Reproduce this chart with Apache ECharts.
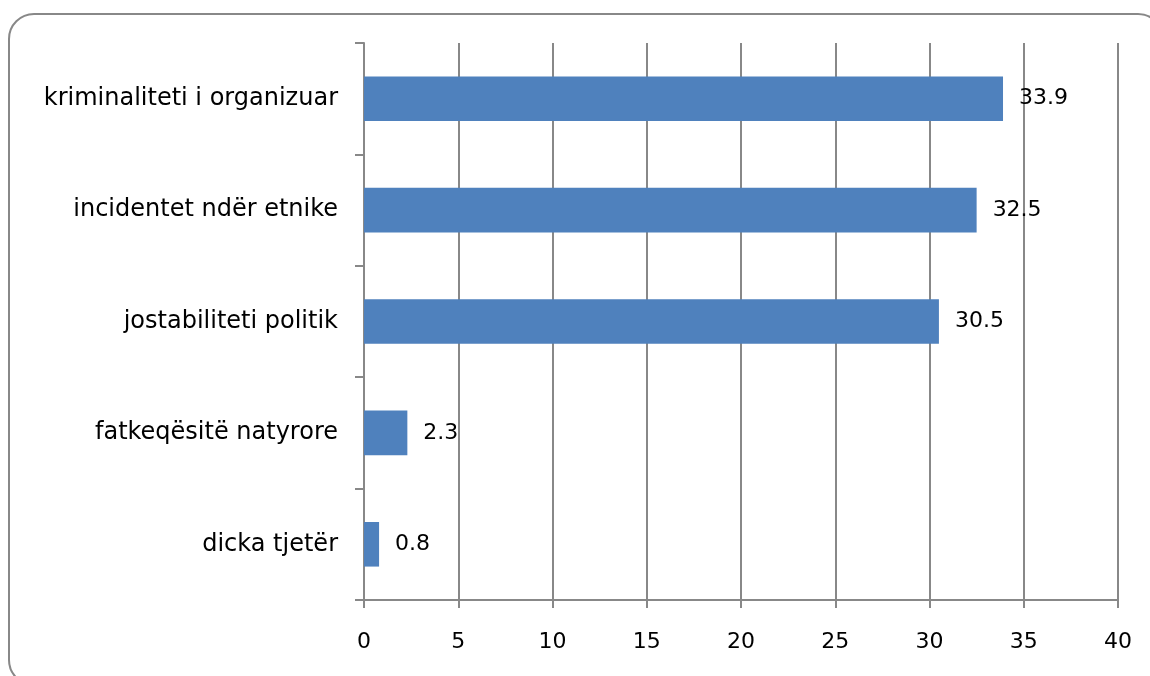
<!DOCTYPE html>
<html><head><meta charset="utf-8">
<script src="https://cdn.jsdelivr.net/npm/echarts@6/dist/echarts.min.js"></script>
<style>html,body{margin:0;padding:0;background:#fff}#c{width:1150px;height:676px}</style>
</head><body><div id="c"></div>
<script>
const categories = ["dicka tjetër","fatkeqësitë natyrore","jostabiliteti politik","incidentet ndër etnike","kriminaliteti i organizuar"];
const values = [0.8, 2.3, 30.5, 32.5, 33.9];
const xTicks = {min:0, max:40, interval:5};
const FONT = "DejaVu Sans";
const chart = echarts.init(document.getElementById('c'), null, {renderer:'canvas'});
chart.setOption({
  animation:false,
  backgroundColor:'#fff',
  graphic:[{type:'rect', shape:{x:9,y:14,width:1154,height:671,r:25}, style:{fill:'none',stroke:'#888',lineWidth:2}, z:-1}],
  grid:{left:364,right:32,top:43,bottom:76},
  xAxis:{type:'value',min:xTicks.min,max:xTicks.max,interval:xTicks.interval,
    axisLine:{show:true,lineStyle:{color:'#888',width:2}},
    axisTick:{show:true,length:8,lineStyle:{color:'#888',width:2}},
    axisLabel:{color:'#000',fontFamily:FONT,fontSize:22,margin:31},
    splitLine:{show:true,lineStyle:{color:'#888',width:2}}},
  yAxis:{type:'category',data:categories,
    axisLine:{show:true,lineStyle:{color:'#888',width:2}},
    axisTick:{show:true,length:9,lineStyle:{color:'#888',width:2}},
    axisLabel:{color:'#000',fontFamily:FONT,fontSize:24,margin:26}},
  series:[{type:'bar',data:values,barWidth:'40%',itemStyle:{color:'#4F81BD'},
    label:{show:true,position:'right',distance:16,color:'#000',fontFamily:FONT,fontSize:22}}]
});
</script></body></html>
